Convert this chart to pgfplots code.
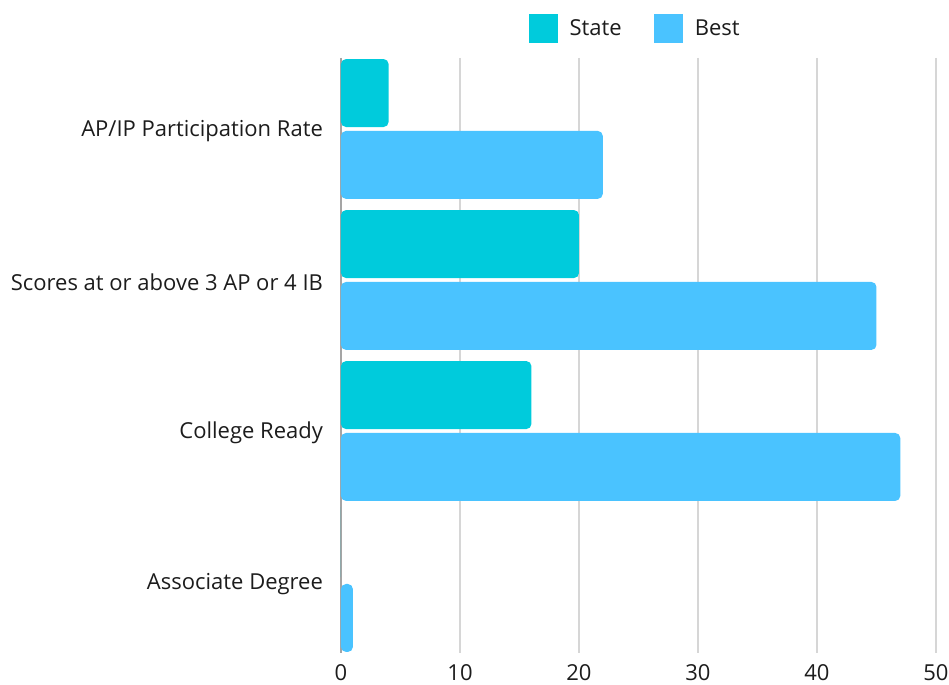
\documentclass[border=0pt]{standalone}
\usepackage{pgfplots}
\pgfplotsset{compat=1.18}
\usepackage{fontspec}
\setmainfont{Open Sans}
\definecolor{stateC}{RGB}{0,203,220}
\definecolor{bestC}{RGB}{74,195,255}
\definecolor{gridC}{RGB}{214,214,214}
\definecolor{zeroC}{RGB}{165,165,165}
\definecolor{txt}{RGB}{28,28,28}
\begin{document}
\begin{tikzpicture}
\path[use as bounding box] (0,0) rectangle (474.5pt,342.5pt);
\begin{axis}[
  at={(170.5pt,16pt)}, anchor=south west,
  scale only axis, width=297.5pt, height=297.5pt,
  xmin=0, xmax=50, ymin=-0.47, ymax=3.47, y dir=reverse,
  xtick={0,10,20,30,40,50},
  extra x ticks={0}, extra x tick labels={},
  extra x tick style={grid style={zeroC, line width=0.8pt}},
  xmajorgrids, grid style={gridC, line width=0.6pt},
  major tick length=0pt,
  axis line style={draw=none},
  ytick={0,1,2,3},
  yticklabels={AP/IP Participation Rate, Scores at or above 3 AP or 4 IB, College Ready, Associate Degree},
  yticklabel style={font=\fontsize{11}{13}\selectfont, text=txt, xshift=-5.5pt, yshift=-1pt},
  xticklabel style={font=\fontsize{11}{13}\selectfont, text=txt, yshift=-2pt},
  /pgf/number format/assume math mode=true,
  xbar, bar width=0.45,
  legend style={at={(0.496,1.05)}, anchor=center, draw=none, fill=none,
    legend columns=2, font=\fontsize{11}{13}\selectfont, text=txt,
    /tikz/every odd column/.append style={column sep=4pt},
    /tikz/every even column/.append style={column sep=14pt}},
  legend cell align=left,
]
\addplot[fill=stateC, draw=none, bar shift=-0.238, rounded corners=2.5pt,
  legend image code/.code={\fill[stateC, sharp corners] (0pt,-7pt) rectangle (14.5pt,7.5pt);}]
  coordinates {(4,0) (20,1) (16,2) (0,3)};
\addlegendentry{State}
\addplot[fill=bestC, draw=none, bar shift=0.238, rounded corners=2.5pt,
  legend image code/.code={\fill[bestC, sharp corners] (0pt,-7pt) rectangle (14.5pt,7.5pt);}]
  coordinates {(22,0) (45,1) (47,2) (1,3)};
\addlegendentry{Best}
\end{axis}
\end{tikzpicture}
\end{document}
